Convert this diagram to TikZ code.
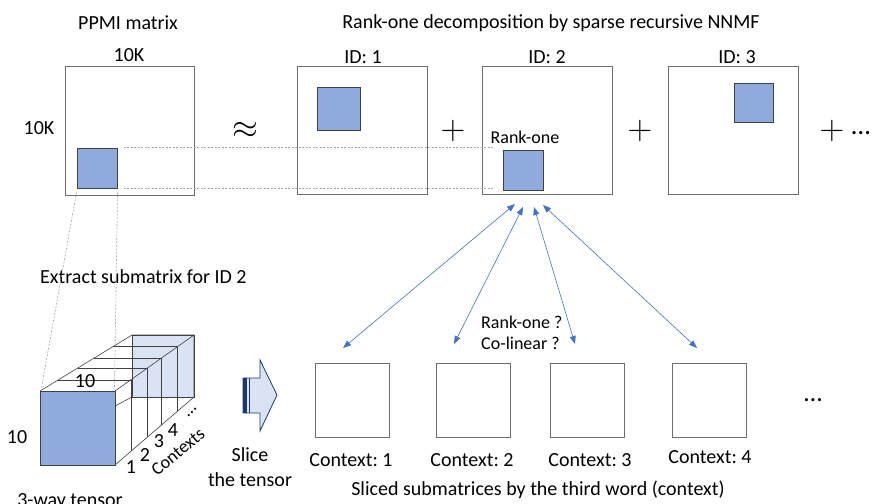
\documentclass[tikz,border=0pt]{standalone}
\usepackage{fontspec}
\setmainfont{Carlito}
\usetikzlibrary{arrows.meta,calc}
\definecolor{subblue}{HTML}{8FAADC}
\definecolor{paleblue}{HTML}{DAE3F3}
\definecolor{arrblue}{HTML}{4472C4}
\definecolor{navy}{HTML}{1F3864}
\definecolor{boxgray}{HTML}{6E6E6E}
\definecolor{edgegray}{HTML}{404040}
\definecolor{guidegray}{HTML}{A6A6A6}
\begin{document}
\frenchspacing
\begin{tikzpicture}[x=1pt,y=-1pt,
  every node/.style={font=\fontsize{20}{25}\selectfont},
  lbl/.style={inner sep=0pt},
  smalllbl/.style={inner sep=0pt,font=\fontsize{18}{22}\selectfont},
  bigmat/.style={draw=boxgray,line width=1pt,minimum width=130pt,minimum height=128pt,inner sep=0pt},
  submat/.style={draw=edgegray,fill=subblue,line width=1pt,inner sep=0pt},
  ctxbox/.style={draw=boxgray,line width=1pt,minimum width=74pt,minimum height=74pt,inner sep=0pt},
  guide/.style={guidegray,dash pattern=on 2pt off 1.5pt,line width=0.6pt},
  link/.style={arrblue,line width=0.6pt,{Triangle[length=8pt,width=6pt]}-{Triangle[length=8pt,width=6pt]}},
  wire/.style={edgegray,line width=0.6pt}]
\useasboundingbox (0,0) rectangle (877,503);

% ---------- top row ----------
\node[lbl] (ppmititle) at (128,23) {PPMI matrix};
\node[lbl] (tenktop) at (129,55) {10K};
\node[lbl] (tenkleft) at (39,128) {10K};
\node[bigmat,minimum width=129pt,minimum height=129pt] (ppmi) at (129.5,130.5) {};
\node[submat,minimum width=40pt,minimum height=40pt] (sub) at (97,168) {};
\node[lbl] (approx) at (245,130) {\scalebox{1.6}{$\approx$}};

\node[lbl] (title) at (551,23) {Rank-one decomposition by sparse recursive NNMF};
\node[lbl] (id1) at (363,57) {ID: 1};
\node[lbl] (id2) at (547,57) {ID: 2};
\node[lbl] (id3) at (737,57) {ID: 3};
\node[bigmat] (m1) at (362,130) {};
\node[bigmat] (m2) at (547,130) {};
\node[bigmat] (m3) at (733,130) {};
\node[submat,minimum width=43pt,minimum height=43pt] (r1) at (338.5,108.5) {};
\node[submat,minimum width=40pt,minimum height=40pt] (r2) at (523,170) {};
\node[submat,minimum width=39pt,minimum height=39pt] (r3) at (753.5,102.5) {};
\node[smalllbl] (rk) at (525,137) {Rank-one};
\node[lbl] (plus1) at (453,131) {\scalebox{1.65}{$+$}};
\node[lbl] (plus2) at (640,131) {\scalebox{1.65}{$+$}};
\node[lbl] (plus3) at (832,131) {\scalebox{1.65}{$+$}};
\node[lbl] (dots3) at (861,133) {\fontsize{27}{27}\selectfont …};

% guide lines
\draw[guide] ([xshift=6pt]sub.north east) -- ($(sub.north east -| r2.west)+(-10,0)$);
\draw[guide] ([xshift=6pt]sub.south east) -- ($(sub.south east -| r2.west)+(-10,0)$);

% ---------- tensor ----------
\node[lbl,anchor=west] (extract) at (40,277) {Extract submatrix for ID 2};
\draw[wire,fill=paleblue] (132,335) rectangle (194,397);
\foreach \t in {0.2,0.41,0.59,0.79} {
  \draw[wire] ({40+92*\t},{391-56*\t}) -- ({115+79*\t},{391-56*\t}) -- ({115+79*\t},{465-68*\t});
}
\draw[wire] (40,391) -- (132,335) -- (194,335) -- (194,397) -- (115,465);
\draw[wire] (115,391) -- (194,335);
\draw[wire] (115,406) -- (132,397);
\node[draw=edgegray,fill=subblue,line width=1pt,minimum width=75pt,minimum height=74pt,inner sep=0pt] (front) at (77.5,428) {};
\draw[guide] ([yshift=-4pt]sub.south west) -- ([xshift=2pt,yshift=3pt]front.north west);
\draw[guide] ([yshift=-4pt]sub.south east) -- ([xshift=-1pt,yshift=3pt]front.north east);

\node[lbl] (tenl) at (17,437) {10};
\node[lbl] (tent) at (85,381) {10};
\node[lbl] (n1) at (131,467) {1};
\node[lbl] (n2) at (145,455) {2};
\node[lbl] (n3) at (159,441) {3};
\node[lbl] (n4) at (173,430) {4};
\node[lbl,rotate=45] (ndots) at (192,412) {\fontsize{18}{18}\selectfont …};
\node[lbl,rotate=40,font=\fontsize{18}{22}\selectfont] (ctxs) at (178,452) {Contexts};
\node[lbl,anchor=base] (tensorlbl) at (70,506) {3-way tensor};

% ---------- slice arrow ----------
\draw[navy,line width=0.8pt,fill=paleblue] (243,378) -- (260,378) -- (260,360) -- (277,395) -- (260,431) -- (260,413) -- (243,413) -- cycle;
\fill[navy] (243,378) rectangle (247,413);
\draw[navy,line width=0.6pt] (249,378) -- (249,413);
\node[lbl,align=center] (slicelbl) at (250,467) {Slice\\the tensor};

% ---------- context boxes ----------
\node[ctxbox] (c1) at (352,400) {};
\node[ctxbox] (c2) at (473,400) {};
\node[ctxbox] (c3) at (587.5,400) {};
\node[ctxbox] (c4) at (709,400) {};
\node[lbl] (cl1) at (351,460) {Context: 1};
\node[lbl] (cl2) at (472,460) {Context: 2};
\node[lbl] (cl3) at (590,460) {Context: 3};
\node[lbl] (cl4) at (710,457) {Context: 4};
\node[lbl] (cdots) at (813,400) {\fontsize{26}{26}\selectfont …};
\node[lbl] (sliced) at (538,490) {Sliced submatrices by the third word (context)};

\node[smalllbl,anchor=west] (q1) at (481,322) {Rank-one ?};
\node[smalllbl,anchor=west] (q2) at (481,343) {Co-linear ?};

% ---------- links ----------
\coordinate (a1s) at (515,204); \coordinate (a1e) at (343,348);
\coordinate (a2s) at (523,207); \coordinate (a2e) at (454,344);
\coordinate (a3s) at (534,207); \coordinate (a3e) at (575,344);
\coordinate (a4s) at (543,205); \coordinate (a4e) at (697,348);
\draw[link] (a1s) -- (a1e);
\draw[link] (a2s) -- (a2e);
\draw[link] (a3s) -- (a3e);
\draw[link] (a4s) -- (a4e);
\end{tikzpicture}
\end{document}
